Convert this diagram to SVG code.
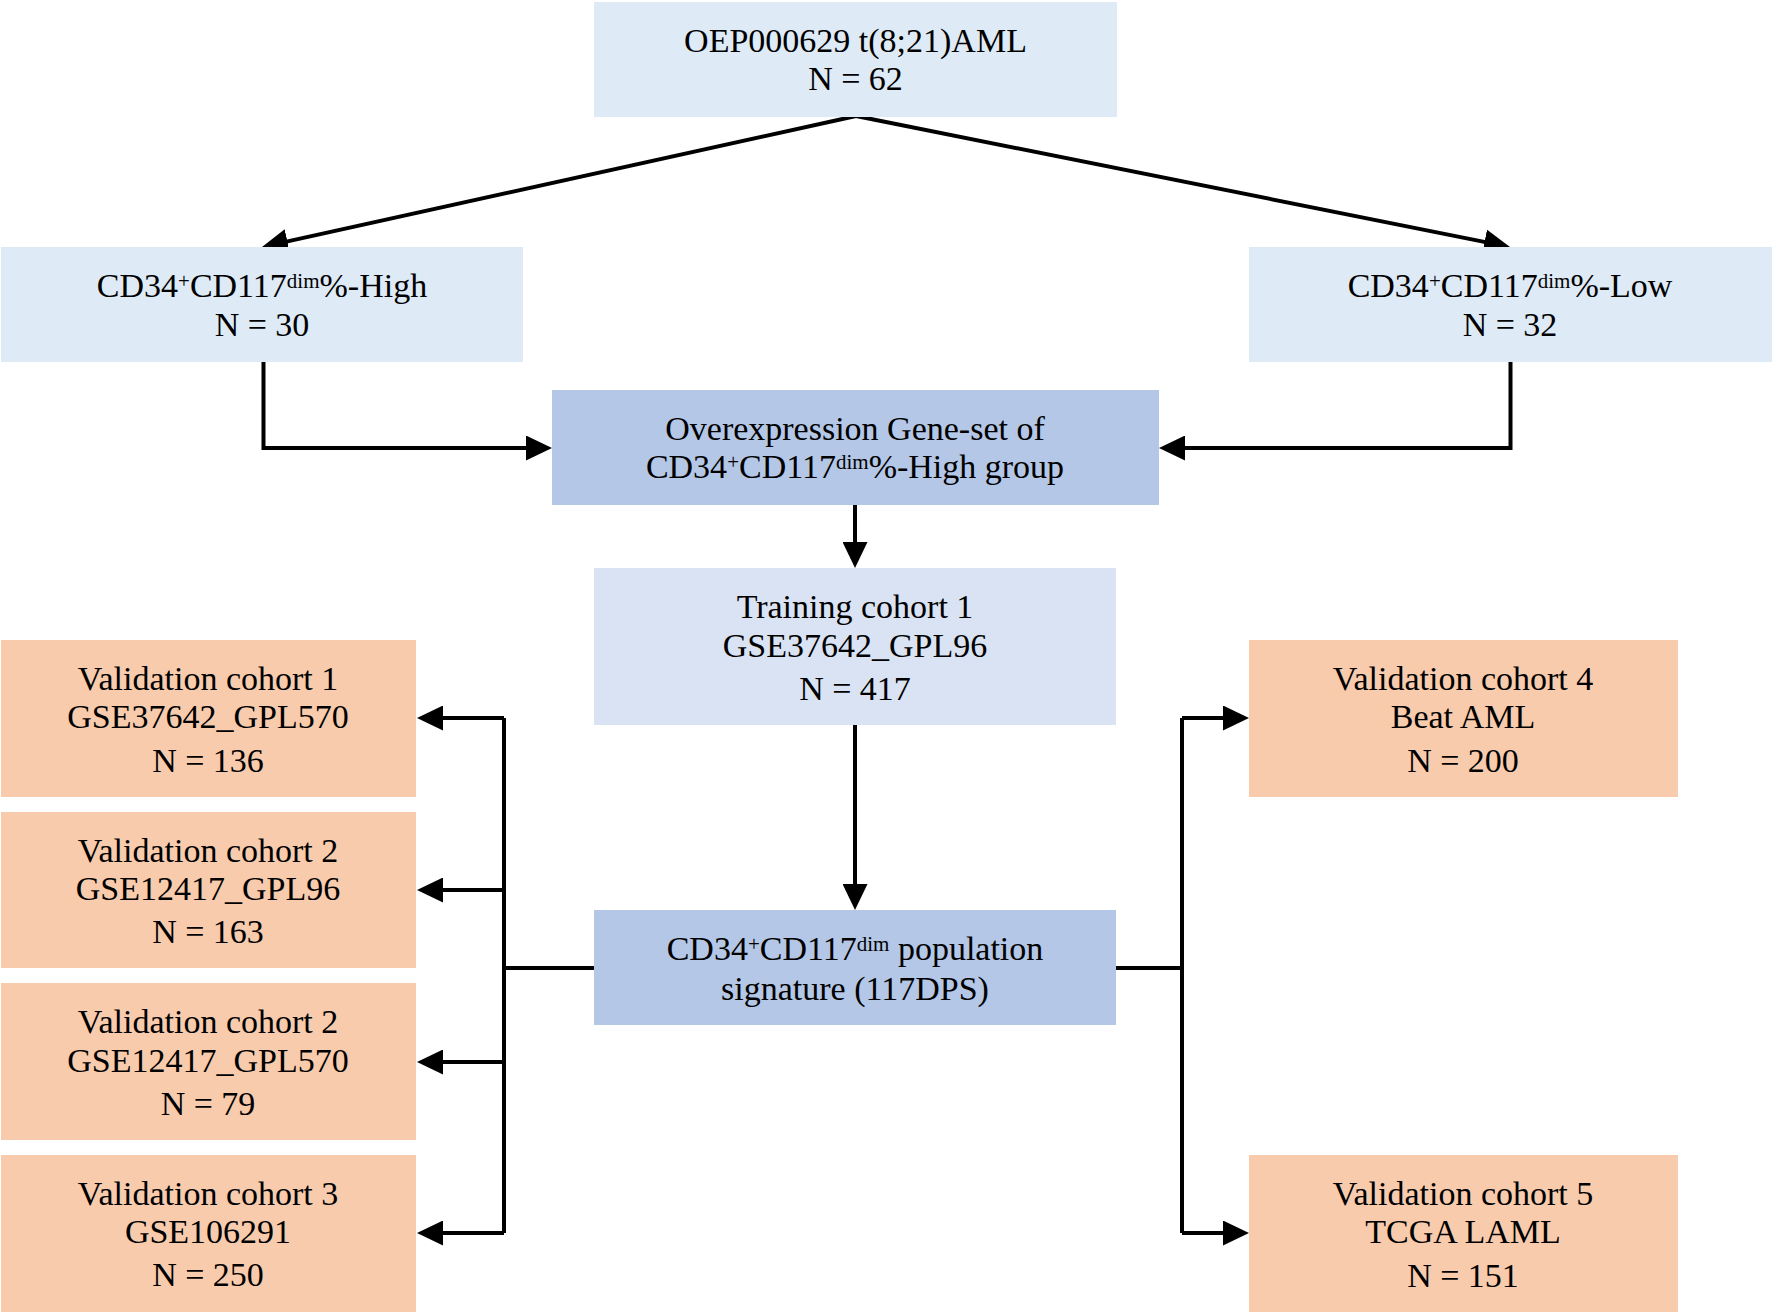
<svg xmlns="http://www.w3.org/2000/svg" width="1773" height="1312" viewBox="0 0 1773 1312">
<style>
text{font-family:"Liberation Serif","Times New Roman",serif;font-size:34px;fill:#000;text-anchor:middle}
.sup{font-size:21px}
.c1{fill:#DEEAF6}
.c2{fill:#B4C7E7}
.c3{fill:#DAE3F3}
.c4{fill:#F8CBAD}
.ln{fill:none;stroke:#000;stroke-width:4;stroke-linejoin:miter}
.ar{marker-end:url(#ah)}
</style>
<defs>
<marker id="ah" viewBox="0 0 26 25" refX="1" refY="12.5" markerWidth="26" markerHeight="25" markerUnits="userSpaceOnUse" orient="auto">
<path d="M0,0 L26,12.5 L0,25 z" fill="#000"/>
</marker>
</defs>
<rect width="1773" height="1312" fill="#fff"/>
<g id="connectors">
<path class="ln ar" d="M856,116 L286.4,241.6"/>
<path class="ln ar" d="M856,116 L1485.5,242.1"/>
<path class="ln ar" d="M263.5,362 V448 H527"/>
<path class="ln ar" d="M1510.5,362 V448 H1184"/>
<path class="ln ar" d="M855,505 V543"/>
<path class="ln ar" d="M855,725 V885"/>
<path class="ln" d="M594,968 H504"/>
<path class="ln" d="M504,718 V1233"/>
<path class="ln ar" d="M504,718 H442"/>
<path class="ln ar" d="M504,890 H442"/>
<path class="ln ar" d="M504,1062 H442"/>
<path class="ln ar" d="M504,1233 H442"/>
<path class="ln" d="M1116,968 H1182"/>
<path class="ln" d="M1182,718 V1233"/>
<path class="ln ar" d="M1182,718 H1224"/>
<path class="ln ar" d="M1182,1233 H1224"/>
</g>
<g id="n-oep">
<rect class="c1" x="594" y="2" width="523" height="115"/>
<text x="855.5" y="52">OEP000629 t(8;21)AML</text>
<text x="855.5" y="90">N = 62</text>
</g>
<g id="n-high">
<rect class="c1" x="1" y="247" width="522" height="115"/>
<text x="262" y="297">CD34<tspan class="sup" dy="-9">+</tspan><tspan dy="9">CD117</tspan><tspan class="sup" dy="-9">dim</tspan><tspan dy="9">%-High</tspan></text>
<text x="262" y="336">N = 30</text>
</g>
<g id="n-low">
<rect class="c1" x="1249" y="247" width="523" height="115"/>
<text x="1510" y="297">CD34<tspan class="sup" dy="-9">+</tspan><tspan dy="9">CD117</tspan><tspan class="sup" dy="-9">dim</tspan><tspan dy="9">%-Low</tspan></text>
<text x="1510" y="336">N = 32</text>
</g>
<g id="n-overexp">
<rect class="c2" x="552" y="390" width="607" height="115"/>
<text x="855" y="440">Overexpression Gene-set of</text>
<text x="855" y="478">CD34<tspan class="sup" dy="-9">+</tspan><tspan dy="9">CD117</tspan><tspan class="sup" dy="-9">dim</tspan><tspan dy="9">%-High group</tspan></text>
</g>
<g id="n-training">
<rect class="c3" x="594" y="568" width="522" height="157"/>
<text x="855" y="618">Training cohort 1</text>
<text x="855" y="657">GSE37642_GPL96</text>
<text x="855" y="700">N = 417</text>
</g>
<g id="n-signature">
<rect class="c2" x="594" y="910" width="522" height="115"/>
<text x="855" y="960">CD34<tspan class="sup" dy="-9">+</tspan><tspan dy="9">CD117</tspan><tspan class="sup" dy="-9">dim</tspan><tspan dy="9"> population</tspan></text>
<text x="855" y="1000">signature (117DPS)</text>
</g>
<g id="n-vc1">
<rect class="c4" x="1" y="640" width="415" height="157"/>
<text x="208" y="690">Validation cohort 1</text>
<text x="208" y="728">GSE37642_GPL570</text>
<text x="208" y="772">N = 136</text>
</g>
<g id="n-vc2a">
<rect class="c4" x="1" y="812" width="415" height="156"/>
<text x="208" y="862">Validation cohort 2</text>
<text x="208" y="900">GSE12417_GPL96</text>
<text x="208" y="943">N = 163</text>
</g>
<g id="n-vc2b">
<rect class="c4" x="1" y="983" width="415" height="157"/>
<text x="208" y="1033">Validation cohort 2</text>
<text x="208" y="1072">GSE12417_GPL570</text>
<text x="208" y="1115">N = 79</text>
</g>
<g id="n-vc3">
<rect class="c4" x="1" y="1155" width="415" height="157"/>
<text x="208" y="1205">Validation cohort 3</text>
<text x="208" y="1243">GSE106291</text>
<text x="208" y="1286">N = 250</text>
</g>
<g id="n-vc4">
<rect class="c4" x="1249" y="640" width="429" height="157"/>
<text x="1463" y="690">Validation cohort 4</text>
<text x="1463" y="728">Beat AML</text>
<text x="1463" y="772">N = 200</text>
</g>
<g id="n-vc5">
<rect class="c4" x="1249" y="1155" width="429" height="157"/>
<text x="1463" y="1205">Validation cohort 5</text>
<text x="1463" y="1243">TCGA LAML</text>
<text x="1463" y="1287">N = 151</text>
</g>
</svg>
